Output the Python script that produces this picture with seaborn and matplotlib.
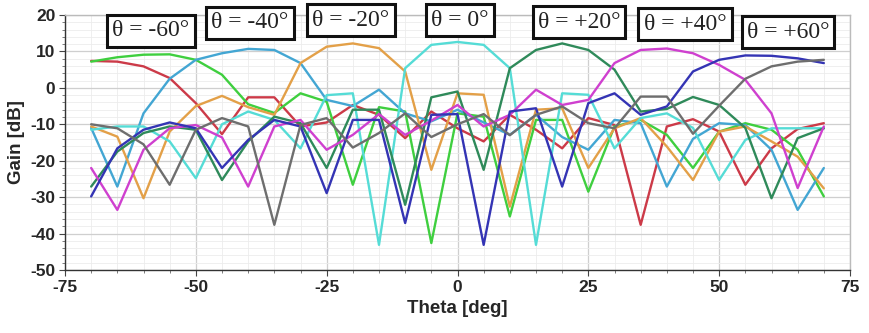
import matplotlib
matplotlib.use("Agg")
import matplotlib.pyplot as plt
import numpy as np
import pandas as pd
import seaborn as sns
from matplotlib.ticker import MultipleLocator

# ---------------- data ----------------
theta = [-70, -65, -60, -55, -50, -45, -40, -35, -30, -25, -20, -15, -10, -5, 0,
         5, 10, 15, 20, 25, 30, 35, 40, 45, 50, 55, 60, 65, 70]

red = [7.4, 7.2, 5.9, 2.7, -4.2, -12.7, -2.6, -2.6, -10.6, -9.5, -4.7, -7.4, -13.8, -6.5, -11.1,
       -14.7, -7.4, -11.5, -16.6, -8.3, -10.2, -37.6, -10.6, -8.6, -12.0, -26.6, -16.6, -11.3, -9.7]
green = [7.2, 8.4, 9.1, 9.2, 7.7, 3.6, -4.5, -6.9, -1.5, -3.8, -26.6, -5.3, -6.5, -42.6, -7.0,
         -7.9, -35.3, -8.8, -8.8, -28.5, -10.6, -8.8, -12.9, -22.0, -12.0, -9.7, -11.5, -17.0, -29.8]
skyblue = [-11.0, -27.1, -7.0, 2.5, 7.7, 9.5, 10.7, 10.4, 6.8, -3.3, -5.0, -0.5, -7.0, -9.2, -6.0,
           -9.5, -12.9, -7.4, -13.5, -17.0, -8.8, -9.7, -27.1, -14.0, -9.7, -10.2, -17.0, -33.5, -22.0]
orange = [-10.6, -13.4, -30.3, -12.0, -5.0, -2.2, -5.3, -7.4, 6.8, 11.3, 12.2, 10.9, 4.5, -22.5, -1.5,
          -1.9, -32.6, -6.0, -5.6, -22.0, -11.1, -8.3, -16.1, -25.3, -12.0, -10.6, -14.7, -18.9, -27.6]
cyan = [-11.5, -10.6, -10.6, -14.7, -24.8, -10.0, -6.5, -8.8, -16.6, -2.0, -1.5, -43.1, 5.4, 11.8, 12.6,
        11.8, 5.4, -43.1, -1.5, -1.9, -16.6, -8.3, -7.0, -11.0, -25.3, -14.3, -11.1, -11.1, -11.1]
darkgreen = [-27.1, -17.5, -12.4, -10.6, -11.5, -25.3, -14.7, -7.9, -9.7, -22.0, -6.0, -6.0, -32.1, -2.6, -1.0,
             -22.5, 5.4, 10.4, 12.2, 10.4, 5.0, -6.5, -5.8, -2.5, -4.7, -11.0, -30.3, -13.8, -11.1]
magenta = [-22.0, -33.5, -17.0, -11.1, -10.2, -13.6, -27.1, -10.6, -8.8, -17.0, -12.9, -7.2, -12.9, -9.0, -4.7,
           -10.6, -7.4, -0.5, -4.7, -3.3, 6.8, 10.4, 10.8, 9.5, 6.3, 2.2, -7.0, -27.5, -10.6]
darkblue = [-29.8, -16.6, -11.5, -9.5, -11.1, -22.0, -14.3, -8.8, -10.6, -28.9, -8.8, -8.8, -37.1, -7.4, -7.2,
            -43.1, -6.5, -5.6, -27.1, -4.2, -1.5, -7.4, -5.1, 4.5, 7.7, 8.9, 8.8, 8.1, 6.8]
gray = [-10.0, -11.1, -15.5, -26.6, -11.5, -8.3, -10.6, -37.6, -10.2, -8.3, -16.4, -12.4, -7.0, -13.5, -10.0,
        -7.2, -13.0, -7.4, -5.1, -9.7, -11.1, -2.4, -2.4, -12.6, -4.9, 2.5, 5.9, 7.2, 7.7]

beam_labels = ["θ = -60°", "θ = -40°", "θ = -20°", "θ = 0°", "θ = +20°", "θ = +40°", "θ = +60°"]

x_ticks = [-75, -50, -25, 0, 25, 50, 75]
y_ticks = [20, 10, 0, -10, -20, -30, -40, -50]

series = {
    "red": red, "green": green, "skyblue": skyblue, "orange": orange, "cyan": cyan,
    "darkgreen": darkgreen, "magenta": magenta, "darkblue": darkblue, "gray": gray,
}
palette = {
    "red": "#cc3a48", "green": "#3fcf3f", "skyblue": "#43a6d3", "orange": "#e3a048",
    "cyan": "#55dcd6", "darkgreen": "#2f8a5a", "magenta": "#cf40cf", "darkblue": "#3434b4",
    "gray": "#6e6e6e",
}
order = list(series.keys())

df = pd.concat(
    [pd.DataFrame({"theta": theta, "gain": vals, "series": name}) for name, vals in series.items()],
    ignore_index=True,
)

# ---------------- style ----------------
sns.set_style("whitegrid")
plt.rcParams["font.family"] = ["Liberation Sans", "DejaVu Sans"]
plt.rcParams["axes.unicode_minus"] = False

fig = plt.figure(figsize=(8.69, 3.33), dpi=100)
ax = fig.add_axes([65 / 869, 63 / 333, 785 / 869, 255 / 333])

sns.lineplot(data=df, x="theta", y="gain", hue="series", hue_order=order, palette=palette,
             linewidth=1.7, legend=False, ax=ax, estimator=None, sort=False)

ax.set_xlim(-75, 75)
ax.set_ylim(-50, 20)
ax.set_xticks(x_ticks)
ax.set_yticks(y_ticks)
ax.xaxis.set_minor_locator(MultipleLocator(5))
ax.yaxis.set_minor_locator(MultipleLocator(2))
ax.grid(which="major", color="#cfcfcf", linewidth=0.9)
ax.grid(which="minor", color="#ececec", linewidth=0.6)
ax.set_axisbelow(True)

ax.tick_params(axis="both", which="major", direction="out", length=4, width=0.8,
               color="#444444", bottom=True, left=True, labelsize=12.5, pad=3)
ax.tick_params(axis="both", which="minor", direction="out", length=2.5, width=0.6,
               color="#666666", bottom=True, left=True)
for lab in ax.get_xticklabels() + ax.get_yticklabels():
    lab.set_fontweight("bold")

for side in ["left", "bottom"]:
    ax.spines[side].set_color("#333333")
    ax.spines[side].set_linewidth(1.0)
for side in ["top", "right"]:
    ax.spines[side].set_color("#bbbbbb")
    ax.spines[side].set_linewidth(1.0)

ax.set_xlabel("Theta [deg]", fontsize=13.5, fontweight="bold", labelpad=4)
ax.set_ylabel("Gain [dB]", fontsize=13.5, fontweight="bold", labelpad=4)

# beam annotation boxes
box_pos = [(151, 31), (250, 23), (351, 20), (460, 20), (579, 22), (685, 24), (788, 32)]
for label, (px, py) in zip(beam_labels, box_pos):
    fig.text(px / 869, 1 - py / 333, label, ha="center", va="center",
             fontsize=17, family=["Liberation Serif", "DejaVu Serif"], color="#222222",
             bbox=dict(boxstyle="square,pad=0.22", facecolor="white", edgecolor="#111111",
                       linewidth=2.2))

fig.savefig("out.png", dpi=100)
